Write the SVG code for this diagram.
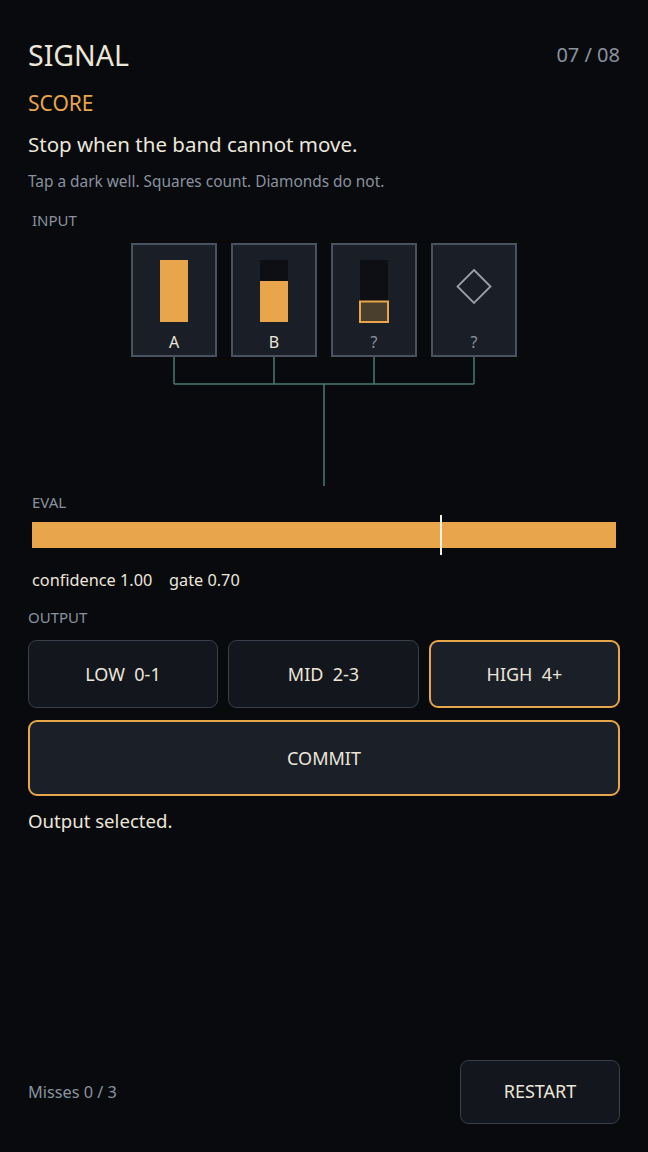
<svg xmlns="http://www.w3.org/2000/svg" width="648" height="1152" viewBox="0 0 648 1152">
<style>
text{font-family:"Noto Sans","Open Sans","DejaVu Sans",sans-serif;white-space:pre}
.hi{fill:#ece6da}
.mu{fill:#8a929e}
.lbl{fill:#8a929e;font-size:15px}
.card{fill:#1a1e27;stroke:#4a5260;stroke-width:2}
.bar{fill:#e8a54b}
.track{fill:#0e0f14}
.btn{fill:#13161d;stroke:#3a404c;stroke-width:1}
.sel{fill:#1a1f28;stroke:#e8a54b;stroke-width:2}
.conn{stroke:#4a7a72;stroke-width:1.5;fill:none}
.bt{fill:#ece6da;font-size:18px;text-anchor:middle}
</style>
<rect width="648" height="1152" fill="#080a0e"/>
<g id="header">
<text x="28" y="66" class="hi" font-size="28.5">SIGNAL</text>
<text x="620" y="62" class="mu" font-size="20" text-anchor="end">07 / 08</text>
<text x="28" y="111" fill="#e8a54b" font-size="21">SCORE</text>
<text x="28" y="152" class="hi" font-size="20.5">Stop when the band cannot move.</text>
<text x="28" y="187" class="mu" font-size="15.4">Tap a dark well. Squares count. Diamonds do not.</text>
<text x="32" y="226" class="lbl">INPUT</text>
</g>
<g id="connectors">
<path class="conn" d="M174 356V384M274 356V384M374 356V384M474 356V384M174 384H474M324 384V486"/>
</g>
<g id="card-a">
<rect class="card" x="132" y="244" width="84" height="112"/>
<rect class="bar" x="160" y="260" width="28" height="62"/>
<text x="174" y="348" class="hi" font-size="16" text-anchor="middle">A</text>
</g>
<g id="card-b">
<rect class="card" x="232" y="244" width="84" height="112"/>
<rect class="track" x="260" y="260" width="28" height="62"/>
<rect class="bar" x="260" y="281" width="28" height="41"/>
<text x="274" y="348" class="hi" font-size="16" text-anchor="middle">B</text>
</g>
<g id="card-c">
<rect class="card" x="332" y="244" width="84" height="112"/>
<rect class="track" x="360" y="260" width="28" height="62"/>
<rect x="360" y="301.5" width="28" height="20.5" fill="#4a3f2c" stroke="#e8a54b" stroke-width="2"/>
<text x="374" y="348" class="mu" font-size="16" text-anchor="middle">?</text>
</g>
<g id="card-d">
<rect class="card" x="432" y="244" width="84" height="112"/>
<path d="M474 270L490.5 286.5L474 303L457.5 286.5Z" fill="none" stroke="#9a9ea6" stroke-width="1.8"/>
<text x="474" y="348" class="mu" font-size="16" text-anchor="middle">?</text>
</g>
<g id="eval">
<text x="32" y="508" class="lbl">EVAL</text>
<rect class="bar" x="32" y="522" width="584" height="26"/>
<rect x="440" y="515" width="2" height="40" fill="#f2ede2"/>
<text x="32" y="586" class="hi" font-size="16.3">confidence 1.00</text>
<text x="169" y="586" class="hi" font-size="16.3">gate 0.70</text>
</g>
<g id="output">
<text x="28" y="623" class="lbl">OUTPUT</text>
<g id="btn-low"><rect class="btn" x="28.5" y="640.5" width="189" height="67" rx="8"/><text x="123" y="681" class="bt">LOW  0-1</text></g>
<g id="btn-mid"><rect class="btn" x="228.5" y="640.5" width="190" height="67" rx="8"/><text x="323.5" y="681" class="bt">MID  2-3</text></g>
<g id="btn-high"><rect class="sel" x="430" y="641" width="189" height="66" rx="8"/><text x="524.5" y="681" class="bt">HIGH  4+</text></g>
<g id="btn-commit"><rect class="sel" x="29" y="721" width="590" height="74" rx="8"/><text x="324" y="765" class="bt">COMMIT</text></g>
<text x="28" y="828" class="hi" font-size="18.6">Output selected.</text>
</g>
<g id="footer">
<text x="28" y="1098" class="mu" font-size="16.3">Misses 0 / 3</text>
<g id="btn-restart"><rect class="btn" x="460.5" y="1060.5" width="159" height="63" rx="8"/><text x="540" y="1098" class="bt">RESTART</text></g>
</g>
</svg>
